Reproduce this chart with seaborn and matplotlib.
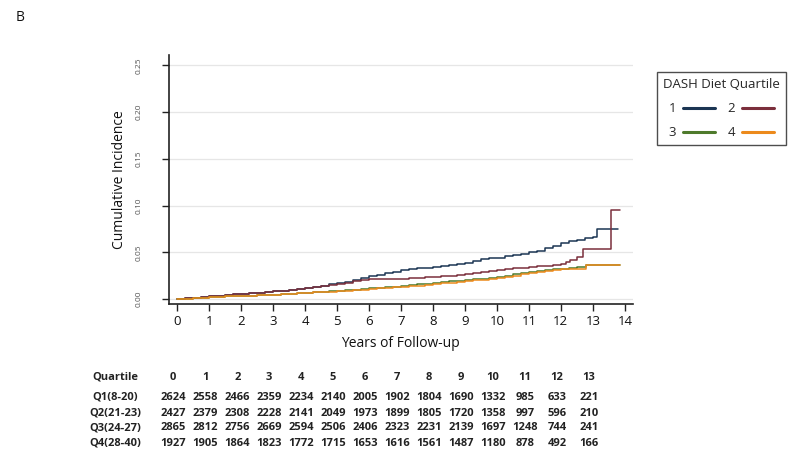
import matplotlib
matplotlib.use("Agg")
import matplotlib.pyplot as plt
import matplotlib.transforms as mtransforms
from matplotlib.lines import Line2D
import numpy as np
import pandas as pd
import seaborn as sns

# ---------------- data ----------------
quartiles = ["1", "2", "3", "4"]
q1_t = [0, .25, .5, .75, 1, 1.25, 1.5, 1.75, 2, 2.25, 2.5, 2.75, 3, 3.25, 3.5, 3.75, 4, 4.25, 4.5, 4.75,
        5, 5.25, 5.5, 5.75, 6, 6.25, 6.5, 6.75, 7, 7.25, 7.5, 7.75, 8, 8.25, 8.5, 8.75, 9, 9.25, 9.5, 9.75,
        10, 10.25, 10.5, 10.75, 11, 11.25, 11.5, 11.75, 12, 12.25, 12.5, 12.75, 13, 13.13, 13.8]
q1_ci = [0, .0008, .0015, .0022, .003, .0038, .0045, .0052, .006, .0065, .007, .0078, .0085, .0092, .010, .011, .012, .013, .0145, .0158,
         .017, .0185, .0205, .0225, .0245, .0262, .028, .0295, .031, .032, .033, .0338, .0345, .0355, .0365, .0378, .039, .0405, .0425, .0435,
         .0445, .0458, .047, .0485, .050, .052, .0545, .057, .060, .062, .0635, .065, .0665, .0748, .0748]
q2_t = [0, .25, .5, .75, 1, 1.25, 1.5, 1.75, 2, 2.25, 2.5, 2.75, 3, 3.25, 3.5, 3.75, 4, 4.25, 4.5, 4.75,
        5, 5.25, 5.5, 5.75, 6, 6.25, 6.5, 6.75, 7, 7.25, 7.5, 7.75, 8, 8.25, 8.5, 8.75, 9, 9.25, 9.5, 9.75,
        10, 10.25, 10.5, 10.75, 11, 11.25, 11.5, 11.75, 12, 12.15, 12.3, 12.5, 12.7, 13.58, 13.85]
q2_ci = [0, .0008, .0015, .0022, .003, .0038, .0045, .0052, .006, .0065, .007, .0078, .0085, .0092, .010, .011, .012, .013, .0143, .0155,
         .0165, .0178, .019, .0203, .0215, .0218, .022, .022, .022, .0222, .0225, .0232, .024, .0245, .025, .026, .027, .028, .029, .030,
         .031, .032, .033, .0338, .0345, .0352, .036, .037, .038, .040, .042, .045, .0534, .0954, .0954]
q3_t = [0, .25, .5, .75, 1, 1.25, 1.5, 1.75, 2, 2.25, 2.5, 2.75, 3, 3.25, 3.5, 3.75, 4, 4.25, 4.5, 4.75,
        5, 5.25, 5.5, 5.75, 6, 6.25, 6.5, 6.75, 7, 7.25, 7.5, 7.75, 8, 8.25, 8.5, 8.75, 9, 9.25, 9.5, 9.75,
        10, 10.25, 10.5, 10.75, 11, 11.25, 11.5, 11.75, 12, 12.25, 12.5, 12.8, 13.85]
q3_ci = [0, .0005, .001, .0015, .002, .0025, .003, .0032, .0035, .0038, .0042, .0046, .005, .0055, .006, .0065, .007, .0075, .0079, .0083,
         .0088, .0094, .010, .0108, .0115, .0122, .0128, .0134, .014, .0149, .0158, .0167, .0175, .0183, .019, .0198, .0205, .0212, .022, .023,
         .024, .0252, .0265, .0278, .029, .030, .031, .0318, .0325, .033, .034, .0366, .0366]
q4_t = [0, .25, .5, .75, 1, 1.25, 1.5, 1.75, 2, 2.25, 2.5, 2.75, 3, 3.25, 3.5, 3.75, 4, 4.25, 4.5, 4.75,
        5, 5.25, 5.5, 5.75, 6, 6.25, 6.5, 6.75, 7, 7.25, 7.5, 7.75, 8, 8.25, 8.5, 8.75, 9, 9.25, 9.5, 9.75,
        10, 10.25, 10.5, 10.75, 11, 11.25, 11.5, 11.75, 12, 12.25, 12.5, 12.8, 13.85]
q4_ci = [0, .0005, .001, .0015, .002, .0025, .003, .0032, .0035, .0038, .0042, .0046, .005, .0055, .006, .0065, .007, .0074, .0078, .0082,
         .0086, .0091, .0097, .0103, .011, .0115, .012, .0125, .013, .0137, .0145, .0152, .016, .0168, .0177, .0185, .0193, .0201, .021, .022,
         .023, .024, .0253, .0267, .028, .0293, .0305, .0313, .032, .0322, .0325, .0366, .0366]

years = list(range(14))
row_labels = ["Q1(8-20)", "Q2(21-23)", "Q3(24-27)", "Q4(28-40)"]
risk_q1 = [2624, 2558, 2466, 2359, 2234, 2140, 2005, 1902, 1804, 1690, 1332, 985, 633, 221]
risk_q2 = [2427, 2379, 2308, 2228, 2141, 2049, 1973, 1899, 1805, 1720, 1358, 997, 596, 210]
risk_q3 = [2865, 2812, 2756, 2669, 2594, 2506, 2406, 2323, 2231, 2139, 1697, 1248, 744, 241]
risk_q4 = [1927, 1905, 1864, 1823, 1772, 1715, 1653, 1616, 1561, 1487, 1180, 878, 492, 166]

y_ticks = [0, 0.05, 0.10, 0.15, 0.20, 0.25]
y_tick_labels = ["0.00", "0.05", "0.10", "0.15", "0.20", "0.25"]
x_ticks = list(range(15))

colors = {"1": "#1b3553", "2": "#7b2f3c", "3": "#4e7a2c", "4": "#ec8a1c"}

# ---------------- frame ----------------
frames = []
for q, t, c in zip(quartiles, [q1_t, q2_t, q3_t, q4_t], [q1_ci, q2_ci, q3_ci, q4_ci]):
    frames.append(pd.DataFrame({"t": t, "ci": c, "q": q}))
df = pd.concat(frames, ignore_index=True)

sns.set_theme(style="white")
plt.rcParams["font.family"] = ["Open Sans", "DejaVu Sans"]

fig = plt.figure(figsize=(8, 4.59), dpi=100)
ax = fig.add_axes([0.211, 0.338, 0.58, 0.542])

sns.lineplot(data=df, x="t", y="ci", hue="q", palette=colors, drawstyle="steps-post",
             estimator=None, sort=False, linewidth=1.1, legend=False, ax=ax)

ax.set_xlim(-0.26, 14.25)
ax.set_ylim(-0.005, 0.261)
ax.set_xticks(x_ticks)
ax.set_xticklabels([str(v) for v in x_ticks], fontsize=9.5, color="#111111")
ax.set_yticks(y_ticks)
ax.set_yticklabels(y_tick_labels, rotation=90, fontsize=6, color="#555555", va="center")
ax.tick_params(axis="both", direction="out", length=5, width=1, color="#222222", left=True, bottom=True)
ax.tick_params(axis="y", pad=14)
ax.tick_params(axis="x", pad=3)
ax.yaxis.grid(True, color="#e6e6e6", linewidth=0.9)
ax.xaxis.grid(False)
for s in ["top", "right"]:
    ax.spines[s].set_visible(False)
for s in ["left", "bottom"]:
    ax.spines[s].set_color("#222222")
    ax.spines[s].set_linewidth(1.2)
ax.set_xlabel("Years of Follow-up", fontsize=10, color="#111111", labelpad=6)
ax.set_ylabel("Cumulative Incidence", fontsize=10, color="#111111", labelpad=6)

# legend (column-first filling -> order 1,3,2,4 gives rows 1 2 / 3 4)
order = ["1", "3", "2", "4"]
handles = [Line2D([0], [0], color=colors[q], linewidth=2.2) for q in order]
leg = fig.legend(handles, order, title="DASH Diet Quartile", ncol=2, markerfirst=False,
                 loc="upper left", bbox_to_anchor=(0.821, 0.843), borderaxespad=0,
                 frameon=True, fancybox=False,
                 fontsize=9.5, title_fontsize=9.5, handlelength=2.4, handletextpad=0.5,
                 columnspacing=1.0, labelspacing=0.85, borderpad=0.45)
leg.get_frame().set_edgecolor("#222222")
leg.get_frame().set_linewidth(1.0)

# panel label
fig.text(0.019, 0.962, "B", fontsize=10, color="#111111", va="center")

# risk table
trans = mtransforms.blended_transform_factory(ax.transData, fig.transFigure)
row_y = [1 - 397 / 459, 1 - 413 / 459, 1 - 428 / 459, 1 - 443 / 459]
head_y = 1 - 377 / 459
fs = 8
fig.text(115 / 800, head_y, "Quartile", fontsize=fs, fontweight="bold", ha="center", va="center", color="#222222")
for yr in years:
    ax.text(yr - 0.12, head_y, str(yr), transform=trans, fontsize=fs, fontweight="bold",
            ha="center", va="center", color="#222222", clip_on=False)
for lab, ry, vals in zip(row_labels, row_y, [risk_q1, risk_q2, risk_q3, risk_q4]):
    fig.text(115 / 800, ry, lab, fontsize=fs, fontweight="bold", ha="center", va="center", color="#222222")
    for yr, v in zip(years, vals):
        ax.text(yr - 0.12, ry, str(v), transform=trans, fontsize=fs, fontweight="bold",
                ha="center", va="center", color="#222222", clip_on=False)

fig.savefig("out.png", dpi=100, facecolor="white")
